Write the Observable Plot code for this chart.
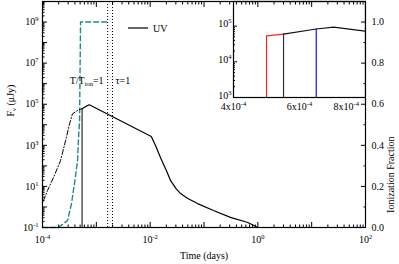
<!DOCTYPE html>
<html>
<head>
<meta charset="utf-8">
<script src="https://cdn.jsdelivr.net/npm/d3@7"></script>
<script src="https://cdn.jsdelivr.net/npm/@observablehq/plot@0.6"></script>
<style>
  body { margin: 0; background: white; }
  #wrap { position: relative; width: 399px; height: 264px; overflow: hidden; }
  #wrap svg { position: absolute; }
</style>
</head>
<body>
<div id="wrap"></div>
<script>
// ---- data ----
// solid black UV curve (days, μJy)
const uvTime = [5.44e-4, 6.65e-4, 7.4e-4, 1.05e-2, 1.3e-2, 1.56e-2, 2.0e-2, 2.4e-2, 3.0e-2, 3.67e-2, 0.05, 0.076, 0.15, 0.31, 0.65, 1.0];
const uvFlux = [6.0e4, 8.3e4, 9.4e4, 2.7e3, 800, 250, 60, 19, 8, 4.5, 2.6, 1.46, 0.67, 0.31, 0.175, 0.1];
// dash-dot black early rise
const riseTime = [1.04e-4, 1.24e-4, 1.6e-4, 2.16e-4, 2.68e-4, 3.18e-4, 3.6e-4, 4.7e-4, 5.44e-4];
const riseFlux = [2.0, 6.3, 27, 178, 1660, 1.1e4, 3.4e4, 5.4e4, 6.0e4];
// teal dashed curve
const tealTime = [1e-4, 1.98e-4, 2.92e-4, 3.46e-4, 3.94e-4, 4.48e-4, 4.67e-4, 4.88e-4, 5.09e-4, 1.62e-3];
const tealFlux = [0.1, 0.1, 0.22, 1.46, 15, 178, 2350, 1.5e4, 1e9, 1e9];
// vertical markers
const greyLineTime = 5.44e-4, greyLineTop = 6.0e4;
const dottedTimes = [1.62e-3, 2.0e-3];
// inset coloured verticals
const redTime = [4.9e-4, 4.9e-4, 5.44e-4];
const redFlux = [1e3, 5.3e4, 6.0e4];
const blueLineTime = 6.65e-4, blueLineTop = 8.3e4;
// ticks / labels
const xLabelTicks = [1e-4, 1e-2, 1e0, 1e2];
const yLabelTicks = [1e-1, 1e1, 1e3, 1e5, 1e7, 1e9];
const fracTicks = [0.0, 0.2, 0.4, 0.6, 0.8, 1.0];
const fracMinor = [0.1, 0.3, 0.5, 0.7, 0.9, 1.1];
const insetXTicks = [4e-4, 6e-4, 8e-4];
const insetYTicks = [1e3, 1e4, 1e5];
const annotY = 1.4e6;
const annotLeft = "T/T_{ion}=1";
const annotRight = "τ=1";

// ---- helpers ----
const uv = uvTime.map((t, i) => ({t, f: uvFlux[i]}));
const rise = riseTime.map((t, i) => ({t, f: riseFlux[i]}));
const teal = tealTime.map((t, i) => ({t, f: tealFlux[i]}));
const red = redTime.map((t, i) => ({t, f: redFlux[i]}));

function decades(lo, hi) { const a = []; for (let e = lo; e <= hi; e++) a.push(10 ** e); return a; }
function minors(lo, hi) { const a = []; for (let e = lo; e < hi; e++) for (let k = 2; k <= 9; k++) a.push(k * 10 ** e); return a; }
const fracToY = f => 10 ** (10 * f - 1);
const pow = d => "10^{" + Math.round(Math.log10(d)) + "}";
const blank = () => "";

const xMajor = decades(-4, 2), xMinor = minors(-4, 2);
const yMajor = decades(-1, 10), yMinor = minors(-1, 10);

const font = "Liberation Serif, Times New Roman, serif";

function rich(svg) {
  d3.select(svg).selectAll("text").each(function () {
    const t = this.textContent;
    if (!/[\^_]\{/.test(t)) return;
    const parts = t.split(/([\^_]\{[^}]*\})/).filter(s => s !== "");
    this.textContent = "";
    let shift = 0;
    for (const p of parts) {
      const ts = d3.select(this).append("tspan");
      let target = 0, txt = p, small = false;
      if (p.startsWith("^{")) { target = -4; txt = p.slice(2, -1); small = true; }
      else if (p.startsWith("_{")) { target = 2.5; txt = p.slice(2, -1); small = true; }
      const dy = target - shift;
      if (dy) ts.attr("dy", dy);
      shift = target;
      if (small) ts.attr("font-size", "6.5px");
      ts.text(txt);
    }
  });
}

// ---- main chart ----
const main = Plot.plot({
  width: 399, height: 264,
  marginLeft: 42, marginRight: 34, marginTop: 1, marginBottom: 37,
  style: {fontFamily: font, fontSize: "10px", color: "black", background: "transparent"},
  x: {type: "log", domain: [1e-4, 1e2]},
  y: {type: "log", domain: [1e-1, 1e10]},
  marks: [
    Plot.ruleX(dottedTimes, {stroke: "black", strokeDasharray: "1,2", strokeWidth: 1}),
    Plot.line(teal, {x: "t", y: "f", stroke: "#1f8a8c", strokeWidth: 1.4, strokeDasharray: "5,3"}),
    Plot.line(rise, {x: "t", y: "f", stroke: "black", strokeWidth: 1, strokeDasharray: "5,2,1,2"}),
    Plot.ruleX([greyLineTime], {y1: 0.1, y2: greyLineTop, stroke: "#555", strokeWidth: 1.5}),
    Plot.line(uv, {x: "t", y: "f", stroke: "black", strokeWidth: 1.2}),
    Plot.text([annotLeft], {x: dottedTimes[0], y: annotY, textAnchor: "end", dx: -4, fontSize: 10}),
    Plot.text([annotRight], {x: dottedTimes[1], y: annotY, textAnchor: "start", dx: 3, fontSize: 10}),
    // axes: inward ticks
    Plot.axisX({ticks: xMajor, tickSize: -5, tickFormat: blank, label: null}),
    Plot.axisX({ticks: xMinor, tickSize: -2.5, tickFormat: blank, label: null}),
    Plot.axisX({anchor: "top", ticks: xMajor, tickSize: -5, tickFormat: blank, label: null}),
    Plot.axisX({anchor: "top", ticks: xMinor, tickSize: -2.5, tickFormat: blank, label: null}),
    Plot.axisX({ticks: xLabelTicks, tickSize: 0, tickPadding: 8, tickFormat: pow, label: null}),
    Plot.axisY({ticks: yMajor, tickSize: -5, tickFormat: blank, label: null}),
    Plot.axisY({ticks: yMinor, tickSize: -2.5, tickFormat: blank, label: null}),
    Plot.axisY({ticks: yLabelTicks, tickSize: 0, tickPadding: 4, tickFormat: pow, label: null}),
    Plot.axisY({anchor: "right", ticks: fracTicks.map(fracToY), tickSize: -5, tickFormat: blank, label: null}),
    Plot.axisY({anchor: "right", ticks: fracMinor.map(fracToY), tickSize: -2.5, tickFormat: blank, label: null}),
    Plot.axisY({anchor: "right", ticks: fracTicks.map(fracToY), tickSize: 0, tickPadding: 6,
      tickFormat: d => ((Math.log10(d) + 1) / 10).toFixed(1), label: null}),
    Plot.frame({stroke: "black", strokeWidth: 1.2}),
    Plot.text(["Time (days)"], {frameAnchor: "bottom", dy: 31, fontSize: 10}),
    Plot.text(["F_{ν} (μJy)"], {frameAnchor: "left", dx: -32, dy: 2, rotate: -90, fontSize: 10}),
    Plot.text(["Ionization Fraction"], {frameAnchor: "right", dx: 25, dy: 22, rotate: -90, fontSize: 10})
  ]
});

// ---- inset ----
const inset = Plot.plot({
  width: 158, height: 111,
  marginLeft: 25, marginRight: 1, marginTop: 1, marginBottom: 14,
  style: {fontFamily: font, fontSize: "10px", color: "black", background: "transparent"},
  x: {type: "log", domain: [4e-4, 9e-4]},
  y: {type: "log", domain: [1e3, 4.9e5]},
  marks: [
    Plot.line(red, {x: "t", y: "f", stroke: "#ff2020", strokeWidth: 1.2, clip: true}),
    Plot.ruleX([greyLineTime], {y1: 1e3, y2: greyLineTop, stroke: "#333", strokeWidth: 1.2}),
    Plot.ruleX([blueLineTime], {y1: 1e3, y2: blueLineTop, stroke: "#1010ff", strokeWidth: 1.2}),
    Plot.line(uv, {x: "t", y: "f", stroke: "#111", strokeWidth: 1.2, clip: true}),
    Plot.axisY({ticks: insetYTicks, tickSize: -4, tickFormat: blank, label: null}),
    Plot.axisY({ticks: minors(3, 5), tickSize: -2, tickFormat: blank, label: null}),
    Plot.axisY({ticks: insetYTicks, tickSize: 0, tickPadding: 2, dy: -2, tickFormat: pow, label: null}),
    Plot.axisX({ticks: insetXTicks, tickSize: 0, tickPadding: 5,
      tickFormat: d => Math.round(d * 1e4) + "x10^{-4}", label: null}),
    Plot.frame({stroke: "black", strokeWidth: 1.2})
  ]
});

const wrap = document.getElementById("wrap");
main.style.left = "0px"; main.style.top = "0px";
inset.style.left = "208px"; inset.style.top = "0px";
wrap.appendChild(main);
wrap.appendChild(inset);
rich(main);
rich(inset);

// legend
const leg = d3.select(wrap).append("svg").attr("width", 399).attr("height", 264)
  .style("left", "0px").style("top", "0px").style("pointer-events", "none");
leg.append("line").attr("x1", 128).attr("x2", 148).attr("y1", 28).attr("y2", 28)
  .attr("stroke", "black").attr("stroke-width", 1.2);
leg.append("text").attr("x", 153).attr("y", 31.5).attr("font-family", font)
  .attr("font-size", 10).text("UV");
</script>
</body>
</html>
